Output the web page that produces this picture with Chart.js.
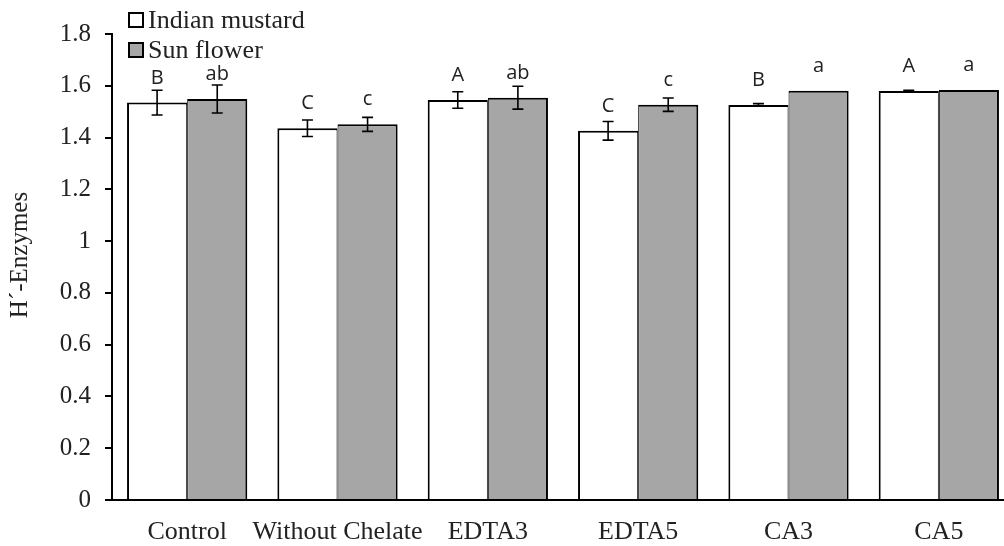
<!DOCTYPE html>
<html>
<head>
<meta charset="utf-8">
<script src="https://cdn.jsdelivr.net/npm/chart.js@4.4.1/dist/chart.umd.min.js"></script>
<style>
html,body{margin:0;padding:0;background:#fff;overflow:hidden;}
#wrap{width:1015px;height:546px;}
</style>
</head>
<body>
<div id="wrap"><canvas id="c" width="1015" height="546"></canvas></div>
<script>
const categories = ["Control", "Without Chelate", "EDTA3", "EDTA5", "CA3", "CA5"];
const seriesNames = ["Indian mustard", "Sun flower"];
const mustardValues = [1.535, 1.436, 1.545, 1.426, 1.526, 1.580];
const mustardErrors = [0.048, 0.032, 0.032, 0.036, 0.005, 0.003];
const sunflowerValues = [1.549, 1.451, 1.554, 1.527, 1.581, 1.584];
const sunflowerErrors = [0.054, 0.027, 0.044, 0.026, 0, 0];
const mustardLetters = ["B", "C", "A", "C", "B", "A"];
const sunflowerLetters = ["ab", "c", "ab", "c", "a", "a"];
const yTickLabels = ["0", "0.2", "0.4", "0.6", "0.8", "1", "1.2", "1.4", "1.6", "1.8"];
const yTitle = "H\u00B4-Enzymes";

const errors = [mustardErrors, sunflowerErrors];
const letters = [mustardLetters, sunflowerLetters];

const overlay = {
  id: 'overlay',
  afterDatasetsDraw(chart) {
    const ctx = chart.ctx;
    const y = chart.scales.y;
    ctx.save();
    chart.data.datasets.forEach((ds, di) => {
      const meta = chart.getDatasetMeta(di);
      meta.data.forEach((bar, i) => {
        const v = ds.data[i];
        const e = errors[di][i];
        const x = bar.x;
        if (e > 0) {
          const yt = y.getPixelForValue(v + e);
          const yb = y.getPixelForValue(v - e);
          ctx.strokeStyle = '#000';
          ctx.lineWidth = 1.6;
          ctx.beginPath();
          ctx.moveTo(x, yt); ctx.lineTo(x, yb);
          ctx.moveTo(x - 5.5, yt); ctx.lineTo(x + 5.5, yt);
          ctx.moveTo(x - 5.5, yb); ctx.lineTo(x + 5.5, yb);
          ctx.stroke();
        }
        ctx.fillStyle = '#222';
        ctx.font = '20px "Open Sans", "Liberation Sans", sans-serif';
        ctx.textAlign = 'center';
        ctx.textBaseline = 'alphabetic';
        ctx.fillText(letters[di][i], x, y.getPixelForValue(v) - 19);
      });
    });
    // legend
    const boxes = [{y: 12, label: seriesNames[0], fill: '#ffffff'}, {y: 42, label: seriesNames[1], fill: '#a6a6a6'}];
    boxes.forEach(b => {
      ctx.fillStyle = b.fill;
      ctx.fillRect(129, b.y + 1, 14, 14);
      ctx.strokeStyle = '#000';
      ctx.lineWidth = 2;
      ctx.strokeRect(129, b.y + 1, 14, 14);
      ctx.fillStyle = '#222';
      ctx.font = '26px "Liberation Serif", "Times New Roman", serif';
      ctx.textAlign = 'left';
      ctx.textBaseline = 'alphabetic';
      ctx.fillText(b.label, 148, b.y + 16);
    });
    // y title
    ctx.translate(27, 255);
    ctx.rotate(-Math.PI / 2);
    ctx.fillStyle = '#222';
    ctx.font = '25px "Liberation Serif", "Times New Roman", serif';
    ctx.textAlign = 'center';
    ctx.textBaseline = 'alphabetic';
    ctx.fillText(yTitle, 0, 0);
    ctx.restore();
  }
};

new Chart(document.getElementById('c'), {
  type: 'bar',
  data: {
    labels: categories,
    datasets: [
      {
        label: seriesNames[0],
        data: mustardValues,
        backgroundColor: '#ffffff',
        borderColor: '#000000',
        borderWidth: {left: 2, top: 2, right: 1, bottom: 0},
        borderSkipped: false,
        categoryPercentage: 0.8,
        barPercentage: 1.0
      },
      {
        label: seriesNames[1],
        data: sunflowerValues,
        backgroundColor: '#a6a6a6',
        borderColor: '#000000',
        borderWidth: {left: 1, top: 2, right: 2, bottom: 0},
        borderSkipped: false,
        categoryPercentage: 0.8,
        barPercentage: 1.0
      }
    ]
  },
  options: {
    responsive: false,
    animation: false,
    devicePixelRatio: 1,
    layout: {padding: {left: 0, top: 34, right: 1, bottom: 0}},
    plugins: {legend: {display: false}, tooltip: {enabled: false}},
    scales: {
      x: {
        grid: {display: false},
        border: {display: true, color: '#000', width: 2},
        ticks: {
          color: '#222',
          font: {family: '"Liberation Serif", "Times New Roman", serif', size: 26},
          padding: 9,
          maxRotation: 0,
          autoSkip: false
        },
        afterFit(s) { s.height = 46; }
      },
      y: {
        min: 0,
        max: 1.8,
        grid: {display: true, drawOnChartArea: false, drawTicks: true, tickLength: 7, color: '#000', lineWidth: 2},
        border: {display: true, color: '#000', width: 2},
        ticks: {
          stepSize: 0.2,
          color: '#222',
          padding: 14,
          font: {family: '"Liberation Serif", "Times New Roman", serif', size: 25},
          callback: (v, i) => yTickLabels[i]
        },
        afterFit(s) { s.width = 112; }
      }
    }
  },
  plugins: [overlay]
});
</script>
</body>
</html>
